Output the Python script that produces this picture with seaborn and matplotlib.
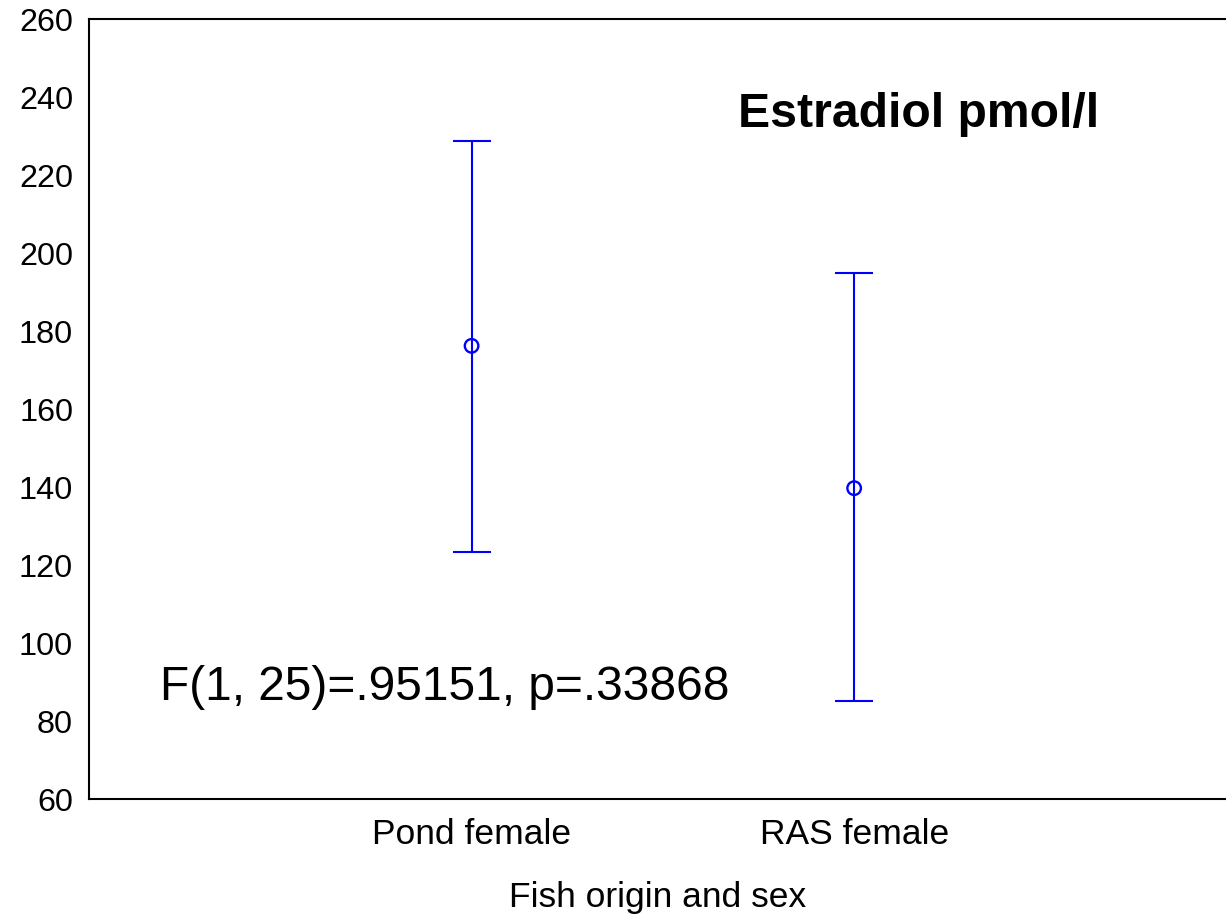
import matplotlib
matplotlib.use("Agg")
import matplotlib.pyplot as plt
import seaborn as sns
import pandas as pd

groups = ["Pond female", "RAS female"]
means = [176.2, 139.7]
lower = [123.3, 85.1]
upper = [228.8, 195.0]

df = pd.DataFrame({"group": groups, "mean": means})

sns.set_style("white")
plt.rcParams["font.family"] = ["Liberation Sans", "DejaVu Sans"]
plt.rcParams["text.color"] = "black"

fig = plt.figure(figsize=(12.26, 9.14), dpi=100)
ax = fig.add_axes([0.0726, 0.1258, 0.9274, 0.8534])

# mean with confidence interval whiskers
yerr = [[m - lo for m, lo in zip(means, lower)], [hi - m for m, hi in zip(means, upper)]]
ax.errorbar(df["group"], df["mean"], yerr=yerr, fmt="none", ecolor="#0000ff",
            elinewidth=1.5, capsize=13.5, capthick=1.5)
sns.scatterplot(data=df, x="group", y="mean", ax=ax, marker="o", s=95,
                facecolor="none", edgecolor="#0000ff", linewidth=1.7, zorder=3)

ax.set_xlim(-1, 1.972)
ax.set_ylim(60, 260)
ax.set_yticks(range(60, 261, 20))
ax.tick_params(axis="both", direction="in", length=4.5, width=1.5, colors="black")
ax.tick_params(axis="x", labelsize=25.5, pad=14)
ax.tick_params(axis="y", labelsize=23.3, pad=11.5)
for side in ["left", "bottom", "top"]:
    ax.spines[side].set_linewidth(1.5)
    ax.spines[side].set_color("black")
ax.spines["right"].set_visible(False)

ax.set_xlabel("Fish origin and sex", fontsize=25.5, labelpad=21, color="black")
ax.set_ylabel("")

ax.text(-0.814, 85.4, "F(1, 25)=.95151, p=.33868", fontsize=34.5, color="black",
        ha="left", va="baseline")
ax.text(0.696, 232.4, "Estradiol pmol/l", fontsize=34.7, fontweight="bold", color="black",
        ha="left", va="baseline")

fig.savefig("out.png", dpi=100)
